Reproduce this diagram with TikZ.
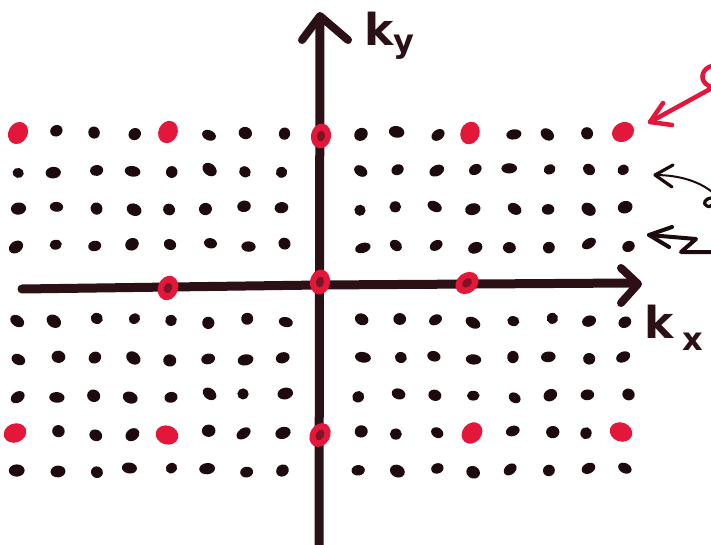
\documentclass[tikz,border=0pt]{standalone}
\usepackage{fontspec}
\setmainfont{DejaVu Sans}
\definecolor{dotc}{HTML}{1C0A0D}
\definecolor{axc}{HTML}{2B1016}
\definecolor{redc}{HTML}{E3173A}
\tikzset{
  axisline/.style={draw=axc, line width=9pt, line cap=round, line join=round},
  headline/.style={draw=axc, line width=8pt, line cap=round, line join=round},
  note/.style={line width=3.2pt, line cap=round, line join=round},
  lbl/.style={text=axc, inner sep=0pt, font=\bfseries\fontsize{44}{44}\selectfont},
  lblsub/.style={text=axc, inner sep=0pt, font=\bfseries\fontsize{32}{32}\selectfont},
  reddot/.style={fill=redc},
}
\begin{document}
\begin{tikzpicture}[x=1pt,y=-1pt]
\useasboundingbox (0,0) rectangle (711,545);
\clip (0,0) rectangle (711,545);
\fill[white] (0,0) rectangle (711,545);
% lattice dots
\pgfmathsetseed{12}
\foreach \c in {0,...,16}{
  \foreach \r in {0,...,9}{
    \pgfmathtruncatemacro\isaxis{(\c==8)||(\r==4)}
    \pgfmathtruncatemacro\isred{(mod(\c,4)==0)&&(mod(\r,4)==0)}
    \pgfmathsetmacro\px{18+38*\c+3*rand}
    \pgfmathsetmacro\py{133+37.5*\r+2.5*rand}
    \pgfmathsetmacro\rx{5.6+2.4*rnd}
    \pgfmathsetmacro\ry{4.9+1.3*rnd}
    \pgfmathsetmacro\rot{40*rand}
    \ifnum\isaxis=0
      \ifnum\isred=0
        \fill[dotc, rotate around={\rot:(\px,\py)}] (\px,\py) ellipse [x radius=\rx, y radius=\ry];
      \fi
    \fi
  }
}
% red off-axis points
\foreach \x/\y/\a in {18/133/60, 168/132/65, 470/133/70, 623/132/30, 15/433/20, 167/435/-15, 472/433/50, 621/432/-20}{
  \fill[reddot, rotate around={\a:(\x,\y)}] (\x,\y) ellipse [x radius=11.5, y radius=9.5];
}
% axes
\draw[axisline] (319,545) -- (320,22);
\draw[headline] (302,40) -- (320,16) -- (348,40);
\draw[axisline] (22,289) -- (320,285) -- (632,283);
\draw[headline] (621,268) -- (638,284) -- (621,303);
% red points on axes
\foreach \x/\y/\a in {168/288/70, 320/282/80, 467/283/40, 321/136/80, 320/435/60}{
  \fill[reddot, rotate around={\a:(\x,\y)}] (\x,\y) ellipse [x radius=12.5, y radius=10];
  \fill[axc, opacity=0.55, rotate around={\a:(\x,\y)}] (\x,\y) ellipse [x radius=5.5, y radius=4];
}
% axis labels
\node[lbl, anchor=base west] (ky) at (364,46) {k};
\node[lblsub, anchor=base west] (kyy) at (393,53) {y};
\node[lbl, anchor=base west] (kx) at (644,338) {k};
\node[lblsub, anchor=base west] (kxx) at (682,350) {x};
% annotations at right edge
\coordinate (rA) at (650,122);
\coordinate (rB) at (712,88);
\draw[note, draw=redc, line width=4.5pt] (rB) -- (rA);
\draw[note, draw=redc, line width=4.5pt] (663,103) -- (rA) -- (672,125);
\draw[note, draw=redc, line width=4.5pt] (712,66) .. controls (703,68) and (699,78) .. (706,84) .. controls (709,86) .. (712,88);
\coordinate (bA) at (655,175);
\coordinate (bB) at (712,192);
\draw[note, draw=dotc, line width=2pt] (bA) .. controls (680,175) and (700,182) .. (bB);
\draw[note, draw=dotc] (673,165) -- (bA) -- (672,187);
\draw[note, draw=dotc] (712,198) .. controls (705,198) and (702,204) .. (707,206) .. controls (709,207) .. (712,205);
\coordinate (cA) at (649,235);
\draw[note, draw=dotc, line width=4pt] (672,227) -- (cA) -- (669,247);
\draw[note, draw=dotc, line width=4pt] (cA) -- (696,239) -- (681,252) -- (712,252);
\end{tikzpicture}
\end{document}
